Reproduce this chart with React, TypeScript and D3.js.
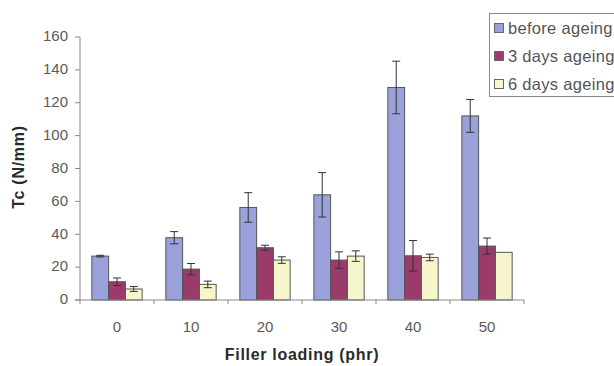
import React from "react";
import * as d3 from "d3";

const categories = ["0", "10", "20", "30", "40", "50"];
const seriesNames = ["before ageing", "3 days ageing", "6 days ageing"];
const beforeAgeing = [26.7, 37.9, 56.3, 64, 129.3, 112];
const beforeErr = [0.5, 3.7, 9, 13.5, 16, 10];
const days3 = [11.1, 18.8, 31.8, 24.3, 26.9, 32.8];
const days3Err = [2.3, 3.4, 1.5, 5, 9.3, 4.9];
const days6 = [6.7, 9.5, 24.3, 26.7, 25.9, 29];
const days6Err = [1.5, 2, 2, 3.2, 2, 0];
const yTicks = [0, 20, 40, 60, 80, 100, 120, 140, 160];
const colors = ["#9ba1da", "#9b3b6b", "#f7f5cc"];

export default function App() {
  const W = 614, H = 366;
  const left = 80, right = 524, top = 37, bottom = 300;
  const x = d3.scaleBand().domain(categories).range([left, right]).paddingInner(0.32).paddingOuter(0.16);
  const xOuter = d3.scaleBand().domain(categories).range([left, right]);
  const y = d3.scaleLinear().domain([0, 160]).range([bottom, top]);
  const sub = d3.scaleBand().domain(seriesNames).range([0, x.bandwidth()]);
  const values = [beforeAgeing, days3, days6];
  const errs = [beforeErr, days3Err, days6Err];
  const font = "'Liberation Sans', Arial, sans-serif";
  const axisColor = "#888";
  const boundaries = [...categories.map((c) => xOuter(c)!), right];

  return (
    <svg width={W} height={H} style={{ position: "absolute", left: 0, top: 0, background: "#fff" }} fontFamily={font}>
      {/* y axis */}
      <line x1={left} x2={left} y1={top} y2={bottom} stroke={axisColor} />
      {yTicks.map((t) => (
        <g key={t}>
          <line x1={left - 5} x2={left} y1={y(t)} y2={y(t)} stroke={axisColor} />
          <text x={left - 12} y={y(t) - 1} dy="0.35em" textAnchor="end" fontSize={15} fill="#5a5a5a">{t}</text>
        </g>
      ))}
      {/* bars */}
      {categories.map((c, i) => (
        <g key={c}>
          {values.map((vals, s) => {
            const bx = x(c)! + sub(seriesNames[s])!;
            const bw = sub.bandwidth();
            const v = vals[i];
            const e = errs[s][i];
            const cx = bx + bw / 2;
            return (
              <g key={s}>
                <rect x={bx} y={y(v)} width={bw} height={bottom - y(v)} fill={colors[s]} stroke="#555" strokeWidth={1} />
                {e > 0 && (
                  <g stroke="#333" strokeWidth={1}>
                    <line x1={cx} x2={cx} y1={y(v + e)} y2={y(v - e)} />
                    <line x1={cx - 4} x2={cx + 4} y1={y(v + e)} y2={y(v + e)} />
                    <line x1={cx - 4} x2={cx + 4} y1={y(v - e)} y2={y(v - e)} />
                  </g>
                )}
              </g>
            );
          })}
          <text x={xOuter(c)! + xOuter.bandwidth() / 2} y={332} textAnchor="middle" fontSize={15} fill="#5a5a5a">{c}</text>
        </g>
      ))}
      {/* x axis */}
      <line x1={left - 5} x2={right} y1={bottom} y2={bottom} stroke={axisColor} />
      {boundaries.map((b, i) => (
        <line key={i} x1={b} x2={b} y1={bottom} y2={bottom + 4} stroke={axisColor} />
      ))}
      {/* titles */}
      <text x={302} y={360} textAnchor="middle" fontSize={16} fontWeight="bold" letterSpacing={0.7} fill="#2a2a2a">Filler loading (phr)</text>
      <text transform={`translate(24,167) rotate(-90)`} textAnchor="middle" fontSize={16} fontWeight="bold" letterSpacing={0.7} fill="#2a2a2a">Tc (N/mm)</text>
      {/* legend */}
      <rect x={489.5} y={13.5} width={140} height={83} fill="#fff" stroke="#888" />
      {seriesNames.map((n, s) => (
        <g key={n}>
          <rect x={494.5} y={28 + s * 28 - 4.5} width={9} height={9} fill={colors[s]} stroke="#666" />
          <text x={508} y={28 + s * 28} dy="0.35em" fontSize={16.5} letterSpacing={0.3} fill="#555">{n}</text>
        </g>
      ))}
    </svg>
  );
}
